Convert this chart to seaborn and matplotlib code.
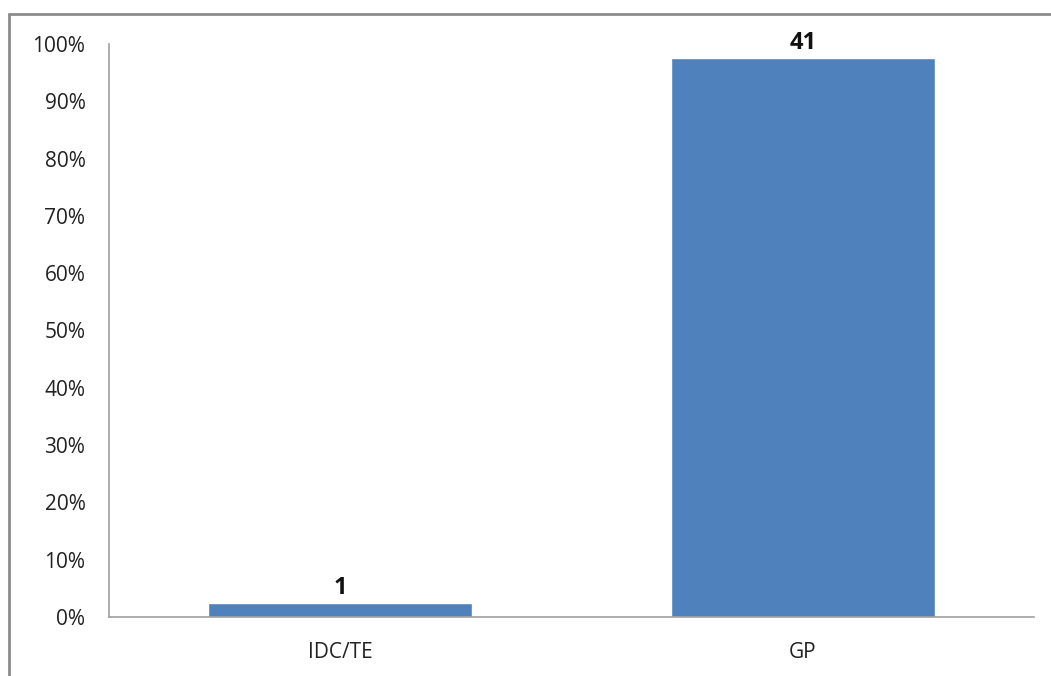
import matplotlib
matplotlib.use("Agg")
import matplotlib.pyplot as plt
import seaborn as sns
import pandas as pd
from matplotlib.lines import Line2D
from matplotlib.ticker import PercentFormatter

categories = ["IDC/TE", "GP"]
counts = [1, 41]
total = sum(counts)
shares = [c / total * 100 for c in counts]

df = pd.DataFrame({"group": categories, "share": shares, "count": counts})

sns.set_style("white")
plt.rcParams["font.family"] = ["Open Sans", "DejaVu Sans"]

fig = plt.figure(figsize=(10.51, 6.76), dpi=100)
ax = fig.add_axes([0.1037, 0.0873, 0.8801, 0.8476])

sns.barplot(data=df, x="group", y="share", color="#4f81bd", width=0.57,
            saturation=1, ax=ax)

ax.set_ylim(0, 100)
ax.set_yticks(range(0, 101, 10))
ax.yaxis.set_major_formatter(PercentFormatter(decimals=0))
ax.set_xlim(-0.5, 1.5)
ax.set_xlabel("")
ax.set_ylabel("")
ax.tick_params(axis="both", length=0, labelsize=15, colors="#222222")
ax.tick_params(axis="y", pad=17)
ax.tick_params(axis="x", pad=18)

for side in ["top", "right"]:
    ax.spines[side].set_visible(False)
for side in ["left", "bottom"]:
    ax.spines[side].set_color("#a0a0a0")
    ax.spines[side].set_linewidth(1.2)

for i, row in df.iterrows():
    ax.text(i, row["share"] + 0.5, str(row["count"]), ha="center", va="bottom",
            fontsize=17, fontweight="bold", color="#111111")

# outer frame of the original chart
fig.add_artist(Line2D([9 / 1051, 9 / 1051], [0, 1 - 14 / 676], transform=fig.transFigure,
                      color="#8c8c8c", lw=2))
fig.add_artist(Line2D([9 / 1051, 1], [1 - 14 / 676, 1 - 14 / 676], transform=fig.transFigure,
                      color="#8c8c8c", lw=2))

fig.savefig("out.png", dpi=100, facecolor="white")
